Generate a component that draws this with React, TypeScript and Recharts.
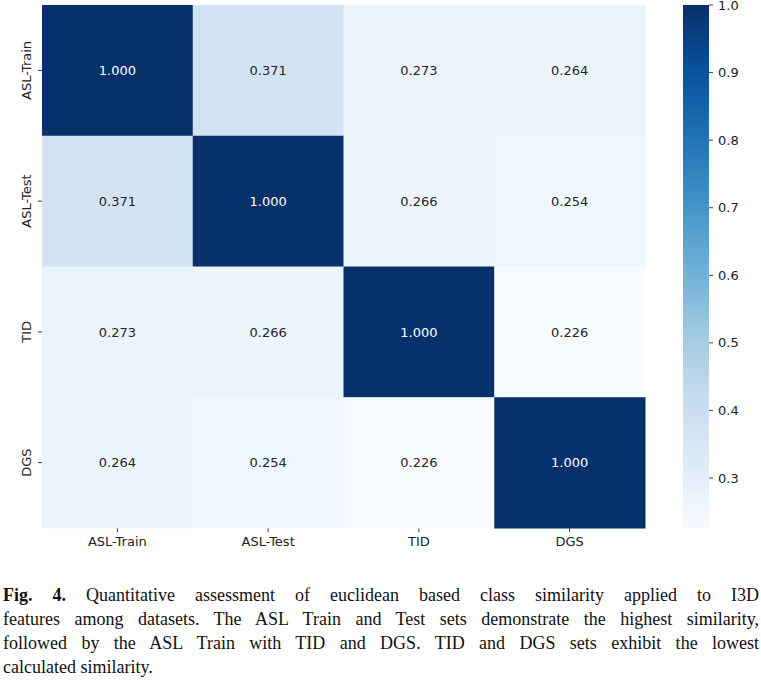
import React from 'react'
import { ScatterChart, Scatter, XAxis, YAxis, BarChart, Bar } from 'recharts'

// categories (same for rows and columns)
const labels = ['ASL-Train', 'ASL-Test', 'TID', 'DGS']

// similarity rows
const rowAslTrain = [1.0, 0.371, 0.273, 0.264]
const rowAslTest = [0.371, 1.0, 0.266, 0.254]
const rowTid = [0.273, 0.266, 1.0, 0.226]
const rowDgs = [0.264, 0.254, 0.226, 1.0]
const rows = [rowAslTrain, rowAslTest, rowTid, rowDgs]

const colorbarTicks = [0.3, 0.4, 0.5, 0.6, 0.7, 0.8, 0.9, 1.0]
const VMIN = 0.226
const VMAX = 1.0

// matplotlib "Blues"
const blues = ['#f7fbff', '#deebf7', '#c6dbef', '#9ecae1', '#6baed6', '#4292c6', '#2171b5', '#08519c', '#08306b']

const hex = (h: string) => [1, 3, 5].map(i => parseInt(h.slice(i, i + 2), 16))
const blueAt = (t: number) => {
  const c = Math.max(0, Math.min(1, t)) * (blues.length - 1)
  const i = Math.min(Math.floor(c), blues.length - 2)
  const f = c - i
  const a = hex(blues[i]), b = hex(blues[i + 1])
  return `rgb(${a.map((v, k) => Math.round(v + (b[k] - v) * f)).join(',')})`
}

const PLOT_W = 603
const PLOT_H = 523
const CELL_W = PLOT_W / labels.length
const CELL_H = PLOT_H / labels.length

const cells = rows.flatMap((r, ri) =>
  r.map((v, ci) => ({ x: ci + 0.5, y: ri + 0.5, v }))
)
const centers = labels.map((_, i) => i + 0.5)
const font = "'DejaVu Sans', sans-serif"

const CellShape = (props: any) => {
  const { cx, cy, payload } = props
  const t = (payload.v - VMIN) / (VMAX - VMIN)
  return (
    <g>
      <rect x={cx - CELL_W / 2} y={cy - CELL_H / 2} width={CELL_W + 0.5} height={CELL_H + 0.5} fill={blueAt(t)} />
      <text x={cx} y={cy} dy="0.36em" textAnchor="middle" fontFamily={font} fontSize={13}
        fill={t > 0.6 ? '#ffffff' : '#262626'}>
        {payload.v.toFixed(3)}
      </text>
    </g>
  )
}

const YTick = (props: any) => {
  const { x, y, payload } = props
  return (
    <text transform={`translate(${x - 5},${y}) rotate(-90)`} textAnchor="middle"
      fontFamily={font} fontSize={13} fill="#222">
      {labels[Math.floor(payload.value)]}
    </text>
  )
}

const captionLines = [
  'Quantitative assessment of euclidean based class similarity applied to I3D',
  'features among datasets. The ASL Train and Test sets demonstrate the highest similarity,',
  'followed by the ASL Train with TID and DGS. TID and DGS sets exhibit the lowest',
  'calculated similarity.',
]

export default function App() {
  return (
    <div style={{ position: 'absolute', left: 0, top: 0, width: 761, height: 686, background: '#fff' }}>
      <div style={{ position: 'absolute', left: 0, top: 0 }}>
        <ScatterChart width={660} height={560} margin={{ top: 5, right: 15, bottom: 0, left: 0 }}>
          <XAxis type="number" dataKey="x" domain={[0, 4]} ticks={centers} height={32}
            tickFormatter={(v: number) => labels[Math.floor(v)]}
            axisLine={false} tickSize={4} tickMargin={5}
            tickLine={{ stroke: '#333' }}
            tick={{ fontFamily: font, fontSize: 13, fill: '#222' }} />
          <YAxis type="number" dataKey="y" domain={[0, 4]} ticks={centers} reversed width={42}
            axisLine={false} tickSize={4} tickMargin={2}
            tickLine={{ stroke: '#333' }} tick={<YTick />} />
          <Scatter data={cells} shape={<CellShape />} isAnimationActive={false} />
        </ScatterChart>
      </div>

      <div style={{ position: 'absolute', left: 683, top: -5 }}>
        <BarChart width={76} height={543} data={[{ name: 'cb', range: [VMIN, VMAX] }]}
          margin={{ top: 10, right: 0, bottom: 10, left: 0 }} barCategoryGap={0}>
          <defs>
            <linearGradient id="cbGrad" x1="0" y1="1" x2="0" y2="0">
              {blues.map((c, i) => (
                <stop key={i} offset={i / (blues.length - 1)} stopColor={c} />
              ))}
            </linearGradient>
          </defs>
          <XAxis dataKey="name" hide />
          <YAxis orientation="right" type="number" domain={[VMIN, VMAX]} ticks={colorbarTicks} width={50}
            axisLine={false} tickSize={4} tickMargin={5}
            tickLine={{ stroke: '#444' }}
            tickFormatter={(v: number) => v.toFixed(1)}
            tick={{ fontFamily: font, fontSize: 13, fill: '#222' }} />
          <Bar dataKey="range" fill="url(#cbGrad)" isAnimationActive={false} />
        </BarChart>
      </div>

      <div style={{ position: 'absolute', left: 3, top: 583, width: 756, fontFamily: "'Liberation Serif', serif", fontSize: 18, lineHeight: '24px', color: '#111' }}>
        {captionLines.map((line, i) => (
          <div key={i} style={{ textAlign: 'justify', textAlignLast: i < captionLines.length - 1 ? 'justify' : 'left', whiteSpace: 'nowrap' }}>
            {i === 0 && <b>Fig. 4. </b>}
            {line}
          </div>
        ))}
      </div>
    </div>
  )
}
